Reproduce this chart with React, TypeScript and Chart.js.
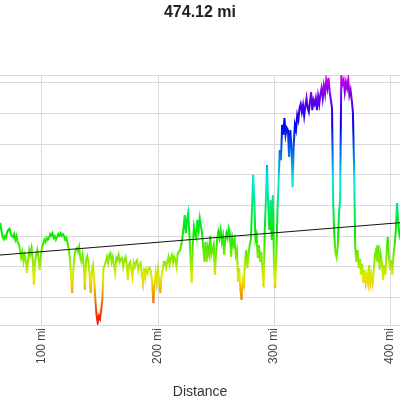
import React, { useEffect, useRef } from "react";
import { Chart, registerables } from "chart.js";

Chart.register(...registerables);

const titleText = "474.12 mi";
const xAxisTitle = "Distance";
const xTickValues = [100, 200, 300, 400];
const yGridValues = [1000, 2000, 3000, 4000, 5000, 6000, 7000, 8000];
const xRange = [63.8, 408.6];
const yRange = [105, 8255];

const distanceMi = [
  62, 63, 64, 65, 66, 67, 68, 69, 70, 71,
  72, 73, 74, 75, 76, 77, 78, 79, 80, 81,
  82, 83, 84, 85, 86, 87, 88, 89, 90, 91,
  92, 93, 94, 95, 96, 97, 98, 99, 100,
  101, 102, 103, 104, 105, 106, 107, 108, 109, 110,
  111, 112, 113, 114, 115, 116, 117, 118, 119, 120,
  121, 122, 123, 124, 125, 126, 127, 128, 129, 130,
  131, 132, 133, 134, 135, 136, 137, 138, 139, 140,
  141, 142, 143, 144, 145, 146, 147, 148, 149, 150,
  151, 152, 153, 154, 155, 156, 157, 158, 159, 160,
  161, 162, 163, 164, 165, 166, 167, 168, 169, 170,
  171, 172, 173, 174, 175, 176, 177, 178, 179, 180,
  181, 182, 183, 184, 185, 186, 187, 188, 189, 190,
  191, 192, 193, 194, 195, 196, 197, 198, 199, 200,
  201, 202, 203, 204, 205, 206, 207, 208, 209, 210,
  211, 212, 213, 214, 215, 216, 217, 218, 219, 220,
  221, 222, 223, 224, 225, 226, 227, 228, 229, 230,
  231, 232, 233, 234, 235, 236, 237, 238, 239, 240,
  241, 242, 243, 244, 245, 246, 247, 248, 249, 250,
  251, 252, 253, 254, 255, 256, 257, 258, 259, 260,
  261, 262, 263, 264, 265, 266, 267, 268, 269, 270,
  271, 272, 273, 274, 275, 276, 277, 278, 279, 280,
  281, 282, 283, 284, 285, 286, 287, 288, 289, 290,
  291, 292, 293, 294, 295, 296, 297, 298, 299, 300,
  301, 302, 303, 304, 305, 306, 307, 308, 309, 310,
  311, 312, 313, 314, 315, 316, 317, 318, 319, 320,
  321, 322, 323, 324, 325, 326, 327, 328, 329, 330,
  331, 332, 333, 334, 335, 336, 337, 338, 339, 340,
  341, 342, 343, 344, 345, 346, 347, 348, 349, 350,
  351, 352, 353, 354, 355, 356, 357, 358, 359, 360,
  361, 362, 363, 364, 365, 366, 367, 368, 369, 370,
  371, 372, 373, 374, 375, 376, 377, 378, 379, 380,
  381, 382, 383, 384, 385, 386, 387, 388, 389, 390,
  391, 392, 393, 394, 395, 396, 397, 398, 399, 400,
  401, 402, 403, 404, 405, 406, 407, 408, 409, 410,
];

const elevationFt = [
  3300, 3380, 3430, 3190, 2990, 2900, 3010, 2940, 3140, 3210,
  3240, 3080, 3010, 2970, 3070, 2880, 3000, 2800, 2750, 2550,
  2290, 2480, 2160, 2390, 2230, 1800, 2220, 2550, 2390, 2610,
  2290, 1420, 2160, 2390, 2550, 2290, 1900, 2350, 2620,
  2750, 2880, 2810, 2940, 2880, 2940, 3070, 3010, 3100, 2940,
  3000, 2880, 2970, 3070, 3010, 3100, 3010, 3070, 3010, 2880,
  2940, 2780, 2600, 2300, 1740, 1150, 1900, 2350, 2550, 2610,
  2490, 2650, 2290, 2160, 2390, 2060, 1250, 2220, 2350, 2160,
  1750, 1150, 1900, 2060, 1570, 920, 430, 200, 400, 300,
  590, 920, 1960, 2060, 2160, 2320, 2130, 2390, 2450, 2160,
  2320, 2060, 1800, 2290, 2220, 2390, 2160, 2260, 2290, 2000,
  2220, 2320, 2090, 1570, 2090, 2160, 1900, 1670, 2130, 2000,
  2160, 2220, 1900, 2060, 2130, 1740, 1470, 1960, 1640, 1900,
  1800, 1960, 1960, 1830, 1470, 820, 1410, 1800, 1470, 1900,
  1570, 1150, 1740, 1900, 2160, 2160, 1960, 2160, 2320, 2060,
  2290, 2390, 2130, 2320, 2220, 2000, 2450, 2490, 2550, 2710,
  2940, 3270, 3690, 3100, 3530, 3760, 3140, 2300, 1470, 2710,
  3300, 3040, 2940, 3530, 3200, 3590, 3330, 3100, 2620, 2160,
  2810, 2160, 2620, 2390, 3010, 2390, 2550, 2710, 1740, 2390,
  2880, 3140, 2940, 3200, 2810, 3010, 2390, 2880, 3100, 2940,
  3240, 3040, 2320, 2940, 2710, 2880, 2390, 2550, 1510, 1960,
  1250, 920, 1570, 1410, 2160, 2550, 1960, 2390, 2710, 2880,
  3850, 5000, 4180, 2880, 3040, 2290, 2710, 2160, 2490, 1900,
  1340, 3200, 4180, 5320, 4020, 3200, 4180, 2880, 4340, 1900,
  1310, 2390, 3850, 4830, 5810, 5480, 6630, 6300, 6850, 6300,
  6530, 6460, 5580, 6460, 5970, 4600, 5970, 6630, 6460, 6950,
  6790, 7180, 7310, 7050, 7280, 6920, 7240, 7500, 7180, 7050,
  7380, 7700, 7110, 7440, 7310, 7500, 7110, 7570, 7310, 7640,
  7830, 7500, 7900, 7640, 8090, 7830, 8160, 7700, 7440, 7180,
  4100, 3000, 2450, 2300, 2700, 3700, 4200, 8250, 7960, 8090,
  7700, 8030, 7830, 8120, 7600, 7770, 7440, 7050, 5300, 2650,
  2160, 2550, 1960, 2260, 1740, 2100, 1480, 1900, 1480, 1740,
  1480, 2060, 1480, 1740, 1480, 1900, 2390, 2550, 2160, 2710,
  1900, 2390, 2160, 1570, 2060, 1740, 2390, 2970, 2390, 1900,
  2220, 1740, 2390, 2710, 3200, 4080, 3530, 3040, 2880, 3100,
];

const trendDistanceMi = [62, 410];
const trendElevationFt = [2380, 3445];

// colour ramp (fraction of height -> hue)
const hueAnchors: [number, number][] = [
  [0, 0], [0.17, 55], [0.34, 110], [0.55, 170], [0.68, 210], [0.8, 240], [0.9, 265], [1, 295],
];

function hueAt(f: number): number {
  for (let i = 1; i < hueAnchors.length; i++) {
    const [f0, h0] = hueAnchors[i - 1];
    const [f1, h1] = hueAnchors[i];
    if (f <= f1) return h0 + ((f - f0) / (f1 - f0)) * (h1 - h0);
  }
  return hueAnchors[hueAnchors.length - 1][1];
}

export default function App() {
  const canvasRef = useRef<HTMLCanvasElement | null>(null);

  useEffect(() => {
    if (!canvasRef.current) return;
    const font = "'Liberation Sans', Arial, sans-serif";
    const profile = distanceMi.map((d, i) => ({ x: d, y: elevationFt[i] }));
    const trend = trendDistanceMi.map((d, i) => ({ x: d, y: trendElevationFt[i] }));

    const chart = new Chart(canvasRef.current, {
      type: "line",
      data: {
        datasets: [
          {
            data: trend,
            borderColor: "#111",
            borderWidth: 1,
            pointRadius: 0,
            order: 0,
          },
          {
            data: profile,
            borderWidth: 2,
            pointRadius: 0,
            tension: 0,
            order: 1,
            borderColor: (ctx: any) => {
              const ch = ctx.chart;
              const area = ch.chartArea;
              if (!area) return "#3c3";
              const g = ch.ctx.createLinearGradient(0, area.bottom, 0, area.top);
              for (let k = 0; k <= 40; k++) {
                const f = k / 40;
                g.addColorStop(f, `hsl(${hueAt(f)}, 100%, 46%)`);
              }
              return g;
            },
          },
        ],
      },
      options: {
        responsive: false,
        animation: false,
        devicePixelRatio: 1,
        layout: { padding: 0, autoPadding: false },
        font: { family: font },
        plugins: {
          legend: { display: false },
          tooltip: { enabled: false },
          title: {
            display: true,
            text: titleText,
            color: "#222",
            font: { family: font, size: 16, weight: "bold" },
            padding: { top: 3, bottom: 52.8 },
          },
        },
        scales: {
          x: {
            type: "linear",
            min: xRange[0],
            max: xRange[1],
            afterBuildTicks: (s: any) => {
              s.ticks = xTickValues.map((v) => ({ value: v }));
            },
            afterFit: (s: any) => {
              s.height = 75;
              s.paddingLeft = 0;
              s.paddingRight = 0;
            },
            grid: { color: "#d9d9d9", lineWidth: 1, drawTicks: false },
            border: { display: true, color: "#d9d9d9" },
            ticks: {
              autoSkip: false,
              minRotation: 90,
              maxRotation: 90,
              padding: 3,
              color: "#444",
              font: { family: font, size: 12 },
              callback: (v: any) => `${v} mi`,
            },
            title: {
              display: true,
              text: xAxisTitle,
              color: "#333",
              font: { family: font, size: 14 },
              padding: { top: 0, bottom: -1 },
            },
          },
          y: {
            type: "linear",
            min: yRange[0],
            max: yRange[1],
            afterBuildTicks: (s: any) => {
              s.ticks = [yRange[0], ...yGridValues, yRange[1]].map((v) => ({ value: v }));
            },
            afterFit: (s: any) => {
              s.width = 0;
              s.paddingTop = 0;
              s.paddingBottom = 0;
            },
            grid: { color: "#d9d9d9", lineWidth: 1, drawTicks: false },
            border: { display: false },
            ticks: { display: false },
          },
        },
      },
    } as any);

    return () => chart.destroy();
  }, []);

  return (
    <div style={{ position: "absolute", left: 0, top: 0, width: 400, height: 400, background: "#fff" }}>
      <canvas ref={canvasRef} width={400} height={400} style={{ display: "block" }} />
    </div>
  );
}
